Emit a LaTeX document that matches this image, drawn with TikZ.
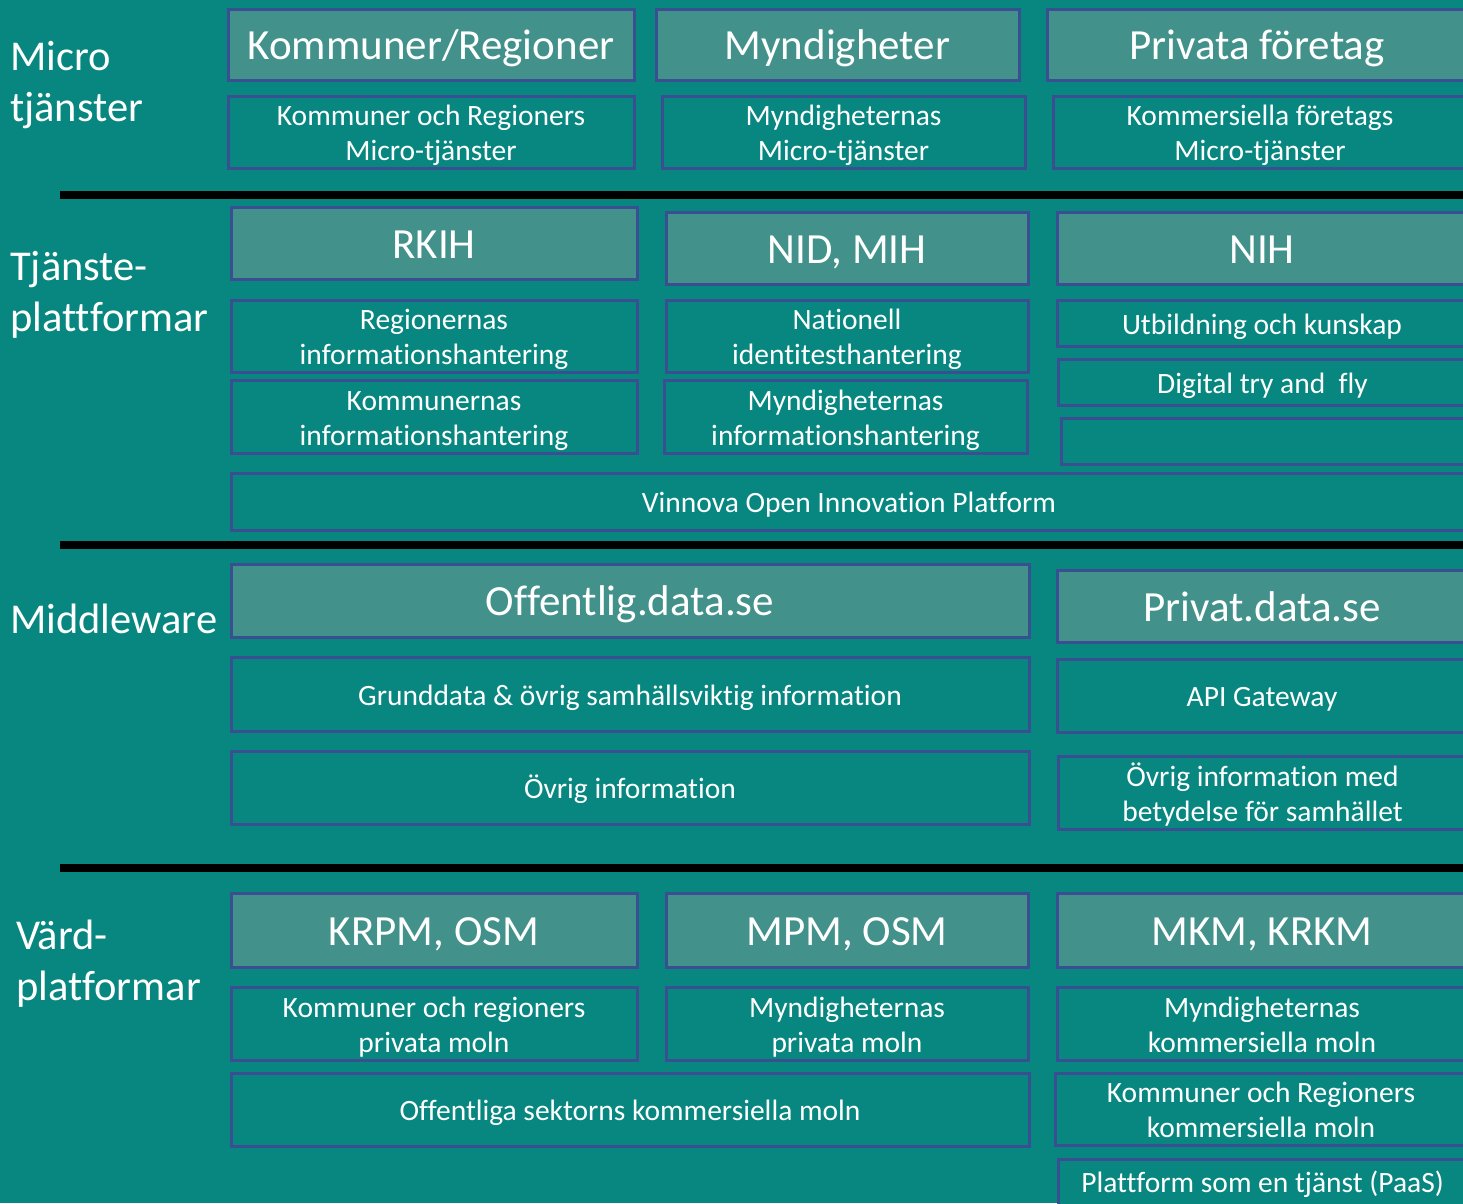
\documentclass[tikz,border=0pt]{standalone}
\usepackage{fontspec}
\setmainfont{Carlito}[Ligatures={NoCommon}]
\definecolor{bg}{HTML}{078780}
\definecolor{hdr}{HTML}{42918A}
\definecolor{edge}{HTML}{3A4E92}
\tikzset{
  cell/.style={draw=edge, line width=3pt, text=white, inner sep=0pt},
  hcell/.style={cell, fill=hdr, font=\fontsize{43}{50}\selectfont, execute at begin node={\def\cellshift{-5pt}}},
  scell/.style={cell, fill=bg, font=\fontsize{29.5}{35}\selectfont, execute at begin node={\def\cellshift{-4pt}}},
  edgecell/.style={scell, execute at begin node={\def\cellshift{2pt}}},
  lbl/.style={text=white, anchor=west, align=left, inner sep=0pt, font=\fontsize{42.5}{51}\selectfont},
  sepline/.style={line width=8pt, black}
}
\newcommand\celltext[1]{\raisebox{\cellshift}[\height][\depth]{\begin{tabular}{@{}c@{}}#1\end{tabular}}}
\newcommand\cellbox[7]{\node[#1, minimum width={#4-#2}, minimum height={#5-#3}] (#6) at ({(#2+#4)/2},{(#3+#5)/2}) {\celltext{#7}};}
\begin{document}
\begin{tikzpicture}[x=1pt,y=-1pt]
\useasboundingbox (0,0) rectangle (1463,1203);
\clip (0,0) rectangle (1463,1203);
\fill[bg] (0,0) rectangle (1463,1203);

% left labels
\node[lbl] (lmicro) at (10,85) {Micro\\tjänster};
\node[lbl] (ltjanste) at (10,295) {Tjänste-\\plattformar};
\node[lbl] (lmiddle) at (10,619) {Middleware};
\node[lbl] (lvard) at (16,964) {Värd-\\platformar};

% separators
\coordinate (s1a) at (60,194.5); \coordinate (s1b) at (1463,194.5);
\coordinate (s2a) at (60,544.5); \coordinate (s2b) at (1463,544.5);
\coordinate (s3a) at (60,867.5); \coordinate (s3b) at (1463,867.5);
\draw[sepline] (s1a) -- (s1b);
\draw[sepline] (s2a) -- (s2b);
\draw[sepline] (s3a) -- (s3b);

% Row 1: Micro tjänster
\cellbox{hcell}{228}{9}{634}{80}{kr}{Kommuner/Regioner}
\cellbox{hcell}{656}{9}{1019}{80}{my}{Myndigheter}
\cellbox{hcell}{1047}{9}{1467}{80}{pf}{Privata företag}
\cellbox{scell}{228}{96}{634}{168}{krm}{Kommuner och Regioners\\Micro-tjänster}
\cellbox{scell}{662}{96}{1025}{168}{mym}{Myndigheternas\\Micro-tjänster}
\cellbox{scell}{1053}{96}{1467}{168}{pfm}{Kommersiella företags\\Micro-tjänster}

% Row 2: Tjänsteplattformar
\cellbox{hcell}{231}{207}{637}{279}{rkih}{RKIH}
\cellbox{hcell}{666}{212}{1028}{284}{nid}{NID, MIH}
\cellbox{hcell}{1057}{212}{1467}{284}{nih}{NIH}
\cellbox{scell}{231}{300}{637}{372}{regi}{Regionernas\\informationshantering}
\cellbox{scell}{666}{300}{1028}{372}{nati}{Nationell\\identitesthantering}
\cellbox{scell}{1057}{300}{1467}{346}{utb}{Utbildning och kunskap}
\cellbox{scell}{231}{380}{637}{453}{komi}{Kommunernas\\informationshantering}
\cellbox{scell}{664}{380}{1027}{453}{myni}{Myndigheternas\\informationshantering}
\cellbox{scell}{1058}{359}{1467}{405}{dig}{Digital try and~ fly}
\cellbox{scell}{1061}{418}{1467}{464}{empty}{}
\cellbox{scell}{231}{473}{1467}{530}{vinn}{Vinnova Open Innovation Platform}

% Row 3: Middleware
\cellbox{hcell}{231}{564}{1029}{637}{offd}{Offentlig.data.se}
\cellbox{hcell}{1057}{570}{1467}{642}{privd}{Privat.data.se}
\cellbox{scell}{231}{657}{1029}{731}{grund}{Grunddata \& övrig samhällsviktig information}
\cellbox{scell}{1057}{659}{1467}{732}{api}{API Gateway}
\cellbox{scell}{231}{751}{1029}{824}{ovr}{Övrig information}
\cellbox{scell}{1058}{756}{1467}{829}{ovr2}{Övrig information med\\betydelse för samhället}

% Row 4: Värdplatformar
\cellbox{hcell}{231}{893}{637}{967}{krpm}{KRPM, OSM}
\cellbox{hcell}{666}{893}{1028}{967}{mpm}{MPM, OSM}
\cellbox{hcell}{1057}{893}{1467}{967}{mkm}{MKM, KRKM}
\cellbox{scell}{231}{987}{637}{1060}{krpriv}{Kommuner och regioners\\privata moln}
\cellbox{scell}{666}{987}{1028}{1060}{mypriv}{Myndigheternas\\privata moln}
\cellbox{scell}{1057}{987}{1467}{1060}{mykom}{Myndigheternas\\kommersiella moln}
\cellbox{scell}{231}{1073}{1029}{1146}{offsek}{Offentliga sektorns kommersiella moln}
\cellbox{scell}{1055}{1073}{1467}{1145}{krkom}{Kommuner och Regioners\\kommersiella moln}
\cellbox{edgecell}{1058}{1159}{1467}{1215}{paas}{Plattform som en tjänst (PaaS)}
\end{tikzpicture}
\end{document}
